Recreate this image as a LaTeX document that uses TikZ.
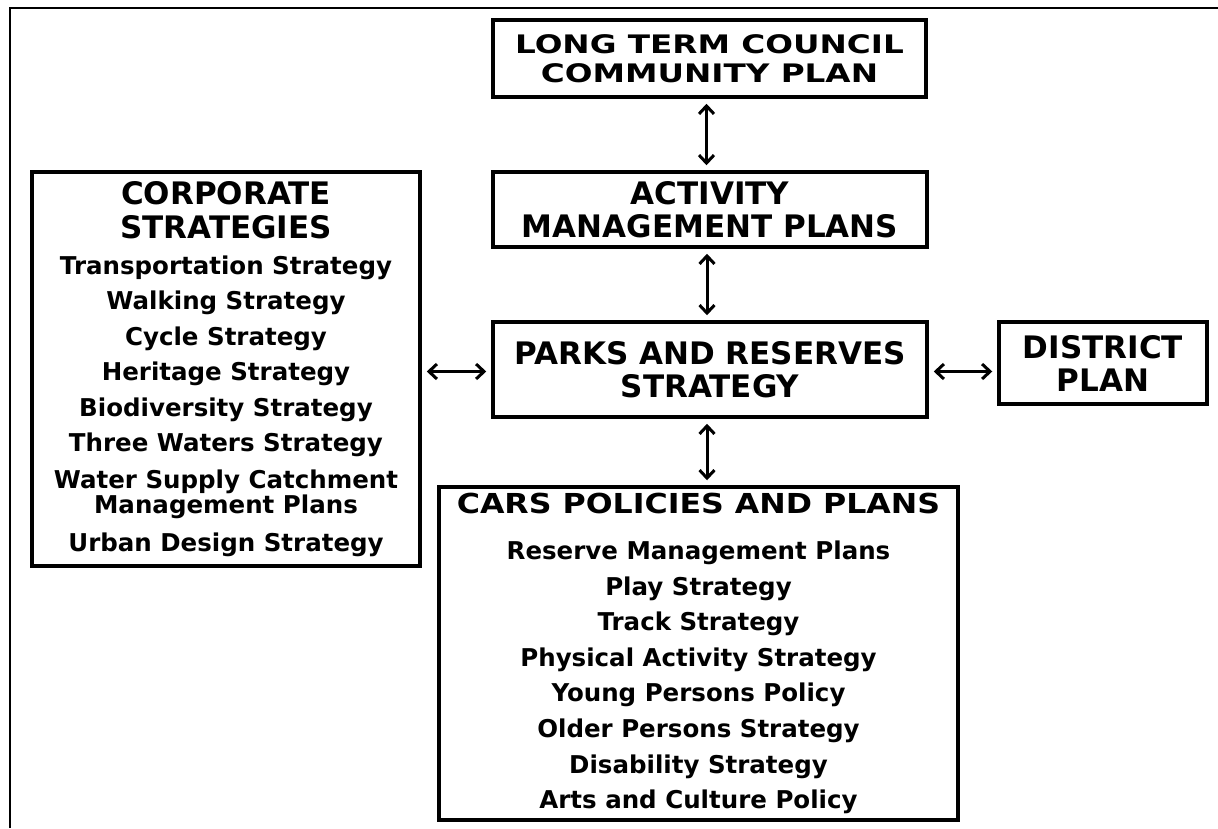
\documentclass[tikz,border=0pt]{standalone}
\usepackage{fontspec}
\setmainfont{DejaVu Sans}
\newfontfamily\widefont{DejaVu Sans}[FakeStretch=1.28]
\newfontfamily\carsfont{DejaVu Sans}[FakeStretch=1.15]
\usetikzlibrary{
  arrows.meta,
  positioning,
}
\tikzset{
  >={Straight Barb[length=8pt,width=15pt]},
  planbox/.style={draw, line width=3.5pt, align=center, inner sep=0pt},
  twoway/.style={<->, line width=3pt, shorten >=5pt, shorten <=5pt},
}
\newcommand{\headsize}{\fontsize{31}{33}\selectfont}
\newcommand{\itemsize}{\fontsize{24.5}{25}\selectfont}

\begin{document}
\begin{tikzpicture}[x=1pt, y=-1pt]
  \useasboundingbox (0,0) rectangle (1218,828);
  % outer frame, cut off at right and bottom
  \draw [line width=2.5pt] (10,828) -- (10,8) -- (1218,8);

  \node [planbox, minimum width=433pt, minimum height=77pt,
    font=\widefont\bfseries\fontsize{25.5}{29}\selectfont] (ltccp) at (709.5,58.5) {
    LONG TERM COUNCIL\\COMMUNITY PLAN
  };
  \node [planbox, minimum width=434pt, minimum height=75pt,
    font=\bfseries\headsize] (amp) at (710,209.5) {
    ACTIVITY\\MANAGEMENT PLANS
  };
  \node [planbox, minimum width=434pt, minimum height=95pt,
    font=\bfseries\headsize] (prs) at (710,369.5) {
    PARKS AND RESERVES\\STRATEGY
  };
  \node [planbox, minimum width=208pt, minimum height=82pt,
    font=\bfseries\headsize] (district) at (1103,363) {
    DISTRICT\\PLAN
  };
  \node [planbox, minimum width=388pt, minimum height=394pt,
    font=\bfseries\itemsize] (corporate) at (226,369) {
    {\headsize CORPORATE}\\[9pt]
    {\headsize STRATEGIES}\\[11pt]
    Transportation Strategy\\[10.5pt]
    Walking Strategy\\[10.5pt]
    Cycle Strategy\\[10.5pt]
    Heritage Strategy\\[10.5pt]
    Biodiversity Strategy\\[10.5pt]
    Three Waters Strategy\\[12pt]
    Water Supply Catchment\\
    Management Plans\\[13pt]
    Urban Design Strategy
  };
  \node [planbox, minimum width=519pt, minimum height=333pt,
    font=\bfseries\itemsize] (cars) at (698.5,653.5) {
    {\carsfont\bfseries\fontsize{27.5}{30}\selectfont CARS POLICIES AND PLANS}\\[21pt]
    Reserve Management Plans\\[10.6pt]
    Play Strategy\\[10.6pt]
    Track Strategy\\[10.6pt]
    Physical Activity Strategy\\[10.6pt]
    Young Persons Policy\\[10.6pt]
    Older Persons Strategy\\[10.6pt]
    Disability Strategy\\[10.6pt]
    Arts and Culture Policy
  };

  \draw [twoway] ([xshift=-3pt]ltccp.south) -- ([xshift=-3pt]ltccp.south |- amp.north);
  \draw [twoway] ([xshift=-3pt]amp.south) -- ([xshift=-3pt]amp.south |- prs.north);
  \draw [twoway] ([xshift=-3pt]prs.south) -- ([xshift=-3pt]prs.south |- cars.north);
  \draw [twoway] ([yshift=-2pt]corporate.east |- prs.west) -- ([yshift=-2pt]prs.west);
  \draw [twoway] ([yshift=-2pt]prs.east) -- ([yshift=-2pt]prs.east -| district.west);
\end{tikzpicture}
\end{document}
